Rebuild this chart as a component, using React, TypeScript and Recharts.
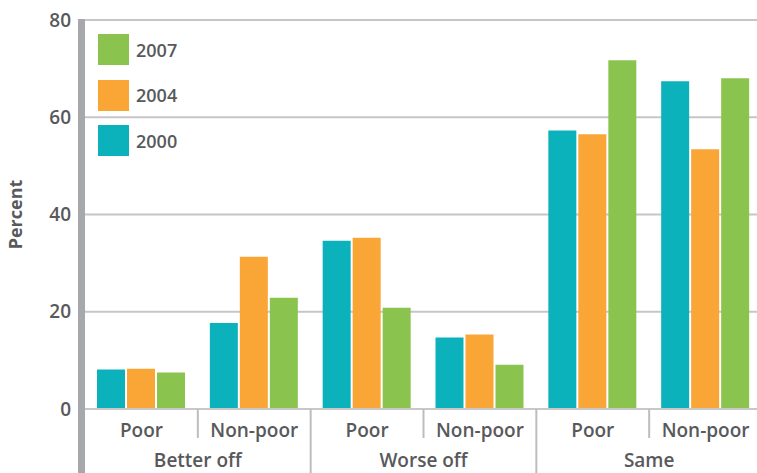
import { BarChart, Bar, XAxis, YAxis, CartesianGrid } from "recharts";

// Share of households by perceived change in welfare, by poverty status
const subgroups = ["Poor", "Non-poor", "Poor", "Non-poor", "Poor", "Non-poor"];
const groups = ["Better off", "Better off", "Worse off", "Worse off", "Same", "Same"];
const pct2000 = [8.1, 17.7, 34.6, 14.7, 57.3, 67.4];
const pct2004 = [8.3, 31.3, 35.2, 15.3, 56.5, 53.4];
const pct2007 = [7.5, 22.9, 20.8, 9.1, 71.7, 68.0];
const yTicks = [0, 20, 40, 60, 80];

const series = [
  { key: "y2007", name: "2007", color: "#8bc34f" },
  { key: "y2004", name: "2004", color: "#f9a637" },
  { key: "y2000", name: "2000", color: "#0cb2bb" },
];

const data = subgroups.map((sub, i) => ({
  sub,
  group: groups[i],
  y2000: pct2000[i],
  y2004: pct2004[i],
  y2007: pct2007[i],
}));

const CHART_W = 770;
const CHART_H = 473;
const PLOT_LEFT = 85;
const PLOT_RIGHT = 762;
const PLOT_TOP = 20;
const PLOT_BOTTOM = 409;
const BAND = (PLOT_RIGHT - PLOT_LEFT) / subgroups.length;

const TEXT = "#58595b";
const FONT = "'Open Sans', sans-serif";
const GRID = "#c6c6c6";
const AXIS_BAR = "#a7a8ab";

function CategoryTick(props: any) {
  const { x, index, payload } = props;
  const left = x - BAND / 2;
  const groupStart = index % 2 === 0;
  return (
    <g>
      {index === 0 && (
        <rect
          x={PLOT_LEFT - 7}
          y={PLOT_TOP - 1}
          width={7}
          height={CHART_H - PLOT_TOP + 1}
          fill={AXIS_BAR}
        />
      )}
      {index > 0 && (
        <line
          x1={left}
          x2={left}
          y1={PLOT_BOTTOM}
          y2={groupStart ? CHART_H : 438}
          stroke="#bdbdbd"
          strokeWidth={2}
        />
      )}
      <text
        x={x}
        y={437}
        textAnchor="middle"
        fill={TEXT}
        fontSize={19}
        fontWeight={600}
        fontFamily={FONT}
      >
        {payload.value}
      </text>
      {groupStart && (
        <text
          x={x + BAND / 2}
          y={467}
          textAnchor="middle"
          fill={TEXT}
          fontSize={19}
          fontWeight={600}
          fontFamily={FONT}
        >
          {groups[index]}
        </text>
      )}
    </g>
  );
}

function LegendBox() {
  return (
    <div
      style={{
        position: "absolute",
        left: 98,
        top: 34,
        display: "flex",
        flexDirection: "column",
        gap: 14.5,
      }}
    >
      {series.map((s) => (
        <div key={s.key} style={{ display: "flex", alignItems: "center", height: 31 }}>
          <div style={{ width: 31, height: 31, background: s.color }} />
          <span
            style={{
              marginLeft: 7,
              color: TEXT,
              fontSize: 18,
              fontWeight: 600,
              fontFamily: FONT,
            }}
          >
            {s.name}
          </span>
        </div>
      ))}
    </div>
  );
}

export default function App() {
  return (
    <div
      style={{
        position: "absolute",
        left: 0,
        top: 0,
        width: 757,
        height: 473,
        overflow: "hidden",
        background: "#fff",
      }}
    >
      <BarChart
        width={CHART_W}
        height={CHART_H}
        data={data}
        margin={{ top: PLOT_TOP, right: CHART_W - PLOT_RIGHT, bottom: 0, left: 0 }}
        barSize={28}
        barGap={2}
      >
        <CartesianGrid vertical={false} stroke={GRID} strokeWidth={2} />
        <XAxis
          dataKey="sub"
          interval={0}
          height={CHART_H - PLOT_BOTTOM}
          tickLine={false}
          axisLine={{ stroke: "#c8c8c8", strokeWidth: 2 }}
          tick={<CategoryTick />}
        />
        <YAxis
          domain={[0, 80]}
          ticks={yTicks}
          width={PLOT_LEFT}
          axisLine={false}
          tickLine={false}
          tickSize={0}
          tickMargin={14}
          tick={{ fill: TEXT, fontSize: 19, fontWeight: 600, fontFamily: FONT }}
          label={{
            content: () => (
              <text
                transform={`translate(22, ${(PLOT_TOP + PLOT_BOTTOM) / 2}) rotate(-90)`}
                textAnchor="middle"
                fill={TEXT}
                fontSize={18}
                fontWeight={700}
                fontFamily={FONT}
              >
                Percent
              </text>
            ),
          }}
        />
        <Bar dataKey="y2000" name="2000" fill="#0cb2bb" isAnimationActive={false} />
        <Bar dataKey="y2004" name="2004" fill="#f9a637" isAnimationActive={false} />
        <Bar dataKey="y2007" name="2007" fill="#8bc34f" isAnimationActive={false} />
      </BarChart>
      <LegendBox />
    </div>
  );
}
